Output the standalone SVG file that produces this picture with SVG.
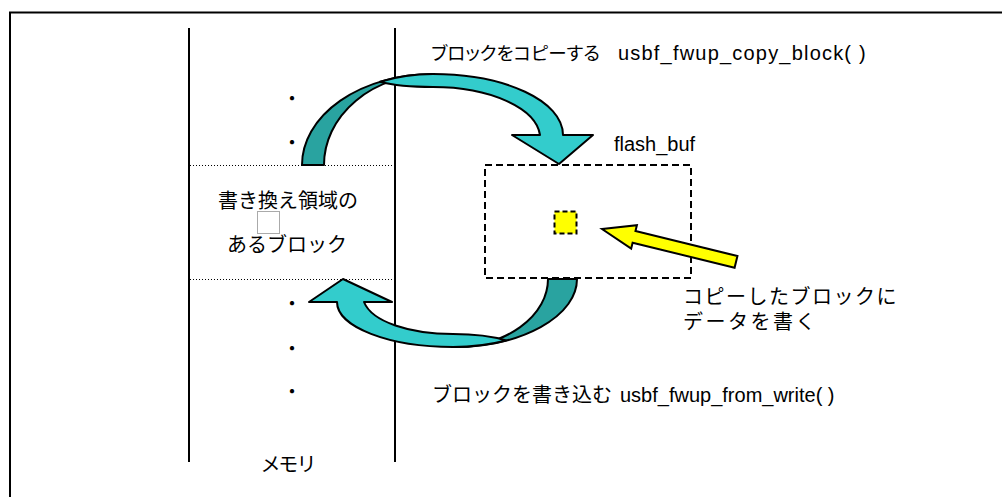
<svg xmlns="http://www.w3.org/2000/svg" width="1002" height="497" viewBox="0 0 1002 497">
<style>
text{font-family:"Liberation Sans","Noto Sans CJK JP",sans-serif;font-size:20px;fill:#000}
.p{font-feature-settings:"palt"}
.mono{letter-spacing:1.5px}
.line{stroke:#000;stroke-width:2;fill:none}
.dot{stroke:#000;stroke-width:1;stroke-dasharray:1 2;fill:none}
.dash{stroke:#000;stroke-width:2;stroke-dasharray:7 4}
.dark{fill:#29A3A0;stroke:#000;stroke-width:2;stroke-linejoin:round}
.light{fill:#33CCCC;stroke:#000;stroke-width:2;stroke-linejoin:round}
</style>
<rect width="1002" height="497" fill="#fff"/>
<rect x="10" y="12.5" width="1000" height="500" class="line"/>
<g id="memory">
<line x1="189" y1="28" x2="189" y2="462" class="line"/>
<line x1="395" y1="28" x2="395" y2="462" class="line"/>
<line x1="190" y1="165.5" x2="393" y2="165.5" class="dot"/>
<line x1="190" y1="279.5" x2="393" y2="279.5" class="dot"/>
<text x="292" y="106" text-anchor="middle">・</text>
<text x="292" y="150" text-anchor="middle">・</text>
<text x="292" y="311" text-anchor="middle">・</text>
<text x="292" y="356" text-anchor="middle">・</text>
<text x="292" y="399" text-anchor="middle">・</text>
<text x="288" y="472" text-anchor="middle" class="p">メモリ</text>
</g>
<g id="rewrite-block">
<text x="288" y="208" text-anchor="middle">書き換え領域の</text>
<rect x="257.5" y="211.5" width="22" height="22" fill="none" stroke="#555" stroke-width="1" stroke-dasharray="1 1"/>
<text x="287" y="252" text-anchor="middle">あるブロック</text>
</g>
<g id="flash_buf">
<rect x="485" y="165" width="206" height="113" fill="none" class="dash"/>
<text x="614" y="151">flash_buf</text>
</g>
<g id="copied-block">
<rect x="554.5" y="211.5" width="22" height="22" fill="#FFFF00" stroke="#000" stroke-width="2" stroke-dasharray="5 3"/>
</g>
<g id="connectors">
<g id="copy-arrow">
<path class="dark" d="M302,165 A131,91 0 0 1 433,74 A109,91 0 0 0 324,165 Z"/>
<path class="light" d="M380,81.8 A131,91 0 0 1 433,74 C505,74 563,101 563,135 L593,135 L559,164 L512,135 L540,135 C536,108 490,87 433,87 C410,87 392,85 380,81.8 Z"/>
</g>
<g id="write-arrow">
<path class="dark" d="M577,279 A124,68 0 0 1 453,347 A95,68 0 0 0 548,279 Z"/>
<path class="light" d="M506,340.5 A124,68 0 0 1 453,347 C389,347 337,327 337,302 L309,302 L343,279 L392,302 L364,302 C372,322 410,334 453,334 C478,334 495,337 506,340.5 Z"/>
</g>
<path id="data-arrow" d="M0,0 L33,-12 L33,-6 L138,-6 L138,6 L33,6 L33,12 Z" transform="translate(602,229) rotate(13.8)" fill="#FFFF00" stroke="#000" stroke-width="2"/>
</g>
<g id="labels">
<text x="431" y="60"><tspan class="p" style="font-size:18.5px">ブロックをコピーする</tspan><tspan x="618" style="letter-spacing:1.2px">usbf_fwup_copy_block( )</tspan></text>
<text x="432" y="402">ブロックを書き込む<tspan x="620">usbf_fwup_from_write( )</tspan></text>
<text x="683" y="304" class="mono">コピーしたブロックに</text>
<text x="683" y="329" style="letter-spacing:2.5px">データを書く</text>
</g>
</svg>
